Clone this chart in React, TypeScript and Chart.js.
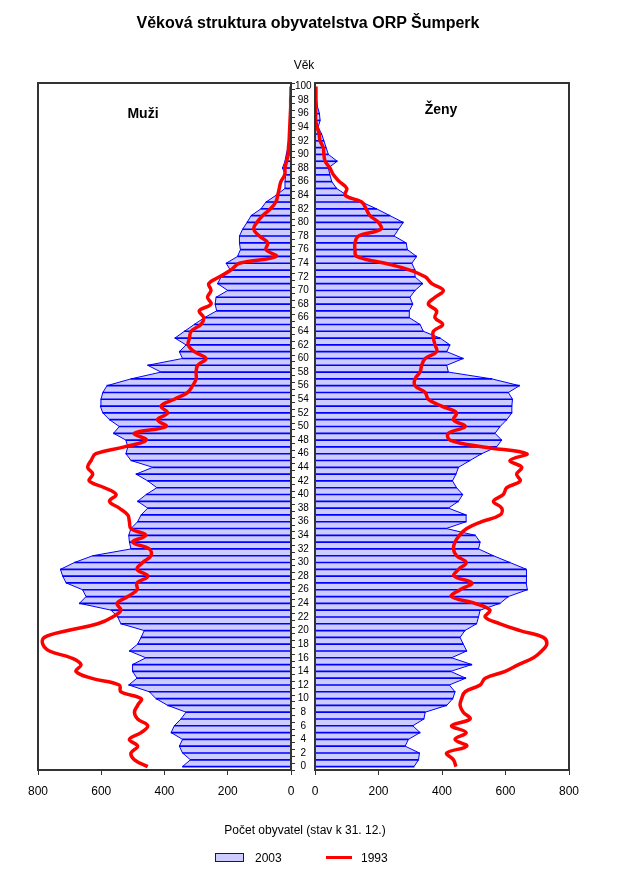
import React, { useEffect, useRef } from "react";
import { Chart, registerables } from "chart.js";
Chart.register(...registerables);

const AGE_MIN = 0;
const AGE_MAX = 100;
const AGES: number[] = Array.from({ length: AGE_MAX - AGE_MIN + 1 }, (_, i) => AGE_MIN + i);

const X_TICKS = [0, 200, 400, 600, 800];

// values by age 0..100
const MALE_2003 = [
  343, 318, 343, 353, 343, 379, 369, 348, 332, 390,
  427, 448, 513, 487, 501, 501, 459, 511, 485, 474,
  464, 538, 548, 569, 669, 648, 659, 711, 722, 729,
  685, 627, 506, 511, 513, 506, 485, 474, 453, 485,
  458, 424, 453, 490, 437, 506, 522, 516, 522, 561,
  543, 574, 595, 603, 601, 595, 582, 506, 411, 453,
  343, 353, 332, 367, 337, 306, 274, 235, 240, 237,
  200, 232, 221, 192, 205, 169, 160, 163, 163, 153,
  139, 126, 95, 79, 47, 19, 19, 17, 27, 19,
  15, 10, 8, 5, 2, 1, 0, 0, 0, 0,
  0,
];

const MALE_1993 = [
  453, 495, 506, 485, 511, 474, 453, 485, 495, 485,
  474, 538, 543, 632, 680, 664, 696, 764, 785, 780,
  706, 611, 564, 538, 550, 516, 487, 487, 453, 487,
  469, 443, 448, 501, 459, 506, 511, 516, 543, 574,
  553, 590, 638, 627, 643, 632, 617, 527, 458, 495,
  395, 422, 390, 411, 369, 327, 311, 300, 300, 295,
  269, 306, 325, 321, 316, 285, 276, 290, 253, 264,
  253, 260, 226, 190, 163, 47, 79, 74, 100, 118,
  108, 90, 65, 48, 42, 37, 32, 20, 19, 14,
  9, 8, 6, 5, 4, 3, 2, 1, 1, 0,
  0,
];

const FEMALE_2003 = [
  312, 326, 329, 284, 294, 331, 308, 343, 347, 415,
  434, 441, 423, 475, 427, 494, 430, 478, 467, 457,
  472, 509, 515, 520, 583, 609, 669, 665, 667, 665,
  614, 562, 515, 520, 505, 413, 476, 476, 420, 452,
  465, 446, 433, 444, 452, 488, 525, 572, 588, 567,
  583, 604, 620, 620, 622, 609, 644, 557, 420, 415,
  467, 415, 425, 394, 341, 331, 297, 297, 308, 299,
  315, 339, 315, 315, 305, 320, 291, 287, 249, 263,
  278, 236, 194, 147, 100, 68, 53, 47, 42, 70,
  42, 35, 28, 21, 10, 16, 14, 8, 5, 2,
  0,
];

const FEMALE_1993 = [
  444, 436, 415, 478, 441, 476, 430, 488, 467, 457,
  462, 473, 520, 536, 599, 641, 688, 714, 730, 719,
  646, 583, 536, 551, 504, 430, 457, 494, 438, 452,
  476, 446, 436, 441, 455, 478, 525, 583, 588, 562,
  593, 604, 646, 635, 651, 614, 667, 530, 425, 420,
  473, 436, 446, 399, 357, 347, 315, 315, 331, 336,
  347, 383, 378, 373, 373, 402, 378, 383, 357, 378,
  404, 368, 347, 299, 221, 131, 126, 126, 137, 207,
  200, 173, 161, 147, 95, 100, 77, 58, 47, 32,
  28, 26, 16, 13, 7, 2, 2, 3, 3, 3,
  3,
];

const FILL = "#ccccff";
const BLUE = "#0000ff";
const RED = "#ff0000";
const FRAME = "#333333";
const FONT = "'Liberation Sans', Arial, sans-serif";

const framePlugin = {
  id: "frame",
  afterDraw(chart: any) {
    const { ctx, chartArea: a } = chart;
    ctx.save();
    ctx.strokeStyle = FRAME;
    ctx.lineWidth = 2;
    ctx.strokeRect(a.left, a.top, a.right - a.left, a.bottom - a.top);
    ctx.restore();
  },
};

function makeConfig(values2003: number[], values1993: number[], left: boolean): any {
  const pts = (arr: number[]) => AGES.map((a, i) => ({ x: arr[i], y: a }));
  return {
    type: "line",
    data: {
      datasets: [
        {
          type: "line",
          label: "1993",
          data: pts(values1993),
          borderColor: RED,
          borderWidth: 3.5,
          pointRadius: 0,
          tension: 0.4,
          fill: false,
        },
        {
          type: "bar",
          label: "2003 lines",
          data: pts(values2003),
          backgroundColor: BLUE,
          borderWidth: 0,
          barThickness: 1,
        },
        {
          type: "line",
          label: "2003",
          data: pts(values2003),
          borderColor: BLUE,
          borderWidth: 1,
          backgroundColor: FILL,
          pointRadius: 0,
          tension: 0,
          fill: "origin",
        },
      ],
    },
    options: {
      indexAxis: "y",
      responsive: false,
      animation: false,
      events: [],
      layout: {
        padding: left
          ? { left: 38, top: 83, right: 5, bottom: 79 }
          : { left: 15, top: 83, right: 50, bottom: 79 },
      },
      plugins: { legend: { display: false }, tooltip: { enabled: false } },
      scales: {
        x: {
          type: "linear",
          position: "bottom",
          min: 0,
          max: 800,
          reverse: left,
          afterBuildTicks: (scale: any) => {
            scale.ticks = X_TICKS.map((v) => ({ value: v }));
          },
          afterFit: (scale: any) => {
            scale.height = 40;
          },
          ticks: {
            color: "#000",
            font: { family: FONT, size: 12 },
            padding: 9,
            maxRotation: 0,
            autoSkip: false,
          },
          grid: { drawOnChartArea: false, drawTicks: true, tickLength: 5, color: FRAME },
          border: { display: false },
        },
        y: {
          type: "linear",
          position: "right",
          display: left,
          min: AGE_MIN,
          max: AGE_MAX,
          afterBuildTicks: (scale: any) => {
            scale.ticks = AGES.map((v) => ({ value: v }));
          },
          afterFit: (scale: any) => {
            scale.width = left ? 24 : 0;
          },
          ticks: {
            color: "#000",
            font: { family: FONT, size: 10 },
            padding: 0,
            crossAlign: "center",
            autoSkip: false,
            callback: (v: any) => (Number(v) % 2 === 0 ? String(v) : ""),
          },
          grid: { drawOnChartArea: false, drawTicks: true, tickLength: 4, color: FRAME },
          border: { display: false },
        },
      },
    },
    plugins: [framePlugin],
  };
}

function Panel(props: { left: boolean; x: number; w: number }) {
  const ref = useRef<HTMLCanvasElement>(null);
  useEffect(() => {
    if (!ref.current) return;
    const chart = new Chart(
      ref.current,
      props.left ? makeConfig(MALE_2003, MALE_1993, true) : makeConfig(FEMALE_2003, FEMALE_1993, false)
    );
    return () => chart.destroy();
  }, []);
  return (
    <canvas
      ref={ref}
      width={props.w}
      height={889}
      style={{ position: "absolute", left: props.x, top: 0, width: props.w, height: 889 }}
    />
  );
}

function Txt(props: { x: number; y: number; size: number; bold?: boolean; children: any; anchor?: string }) {
  return (
    <div
      style={{
        position: "absolute",
        left: props.x,
        top: props.y,
        transform: props.anchor === "left" ? "translate(0,-50%)" : "translate(-50%,-50%)",
        fontFamily: FONT,
        fontSize: props.size,
        fontWeight: props.bold ? "bold" : "normal",
        whiteSpace: "nowrap",
        color: "#000",
        lineHeight: 1,
      }}
    >
      {props.children}
    </div>
  );
}

export default function App() {
  return (
    <div style={{ position: "absolute", left: 0, top: 0, width: 619, height: 889, background: "#fff", overflow: "hidden" }}>
      <Panel left={true} x={0} w={320} />
      <Panel left={false} x={300} w={319} />
      <Txt x={308} y={23} size={16} bold>Věková struktura obyvatelstva ORP Šumperk</Txt>
      <Txt x={304} y={65} size={12}>Věk</Txt>
      <Txt x={143} y={113} size={14} bold>Muži</Txt>
      <Txt x={441} y={109} size={14} bold>Ženy</Txt>
      <Txt x={305} y={830} size={12}>Počet obyvatel (stav k 31. 12.)</Txt>
      <div
        style={{
          position: "absolute",
          left: 215,
          top: 853,
          width: 29,
          height: 9,
          boxSizing: "border-box",
          background: FILL,
          border: `1px solid ${BLUE}`,
        }}
      />
      <Txt x={255} y={858} size={12} anchor="left">2003</Txt>
      <div style={{ position: "absolute", left: 326, top: 856, width: 26, height: 3, background: RED }} />
      <Txt x={361} y={858} size={12} anchor="left">1993</Txt>
    </div>
  );
}
